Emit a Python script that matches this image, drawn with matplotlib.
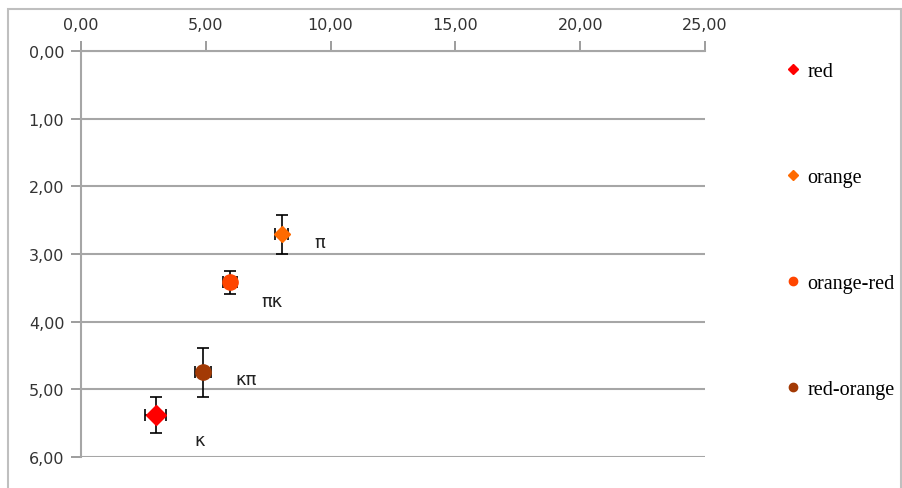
import matplotlib
matplotlib.use("Agg")
import matplotlib.pyplot as plt
from matplotlib.lines import Line2D
from matplotlib.patches import Rectangle
from matplotlib.ticker import FuncFormatter

# colour groups, position on both axes and their error bars
names = ["red", "orange", "orange-red", "red-orange"]
x_vals = [2.99, 8.04, 5.97, 4.88]
y_vals = [5.38, 2.71, 3.42, 4.75]
x_err = [0.42, 0.25, 0.30, 0.32]
y_err = [0.27, 0.29, 0.17, 0.36]
tags = ["κ", "π", "πκ", "κπ"]
tag_x = [4.75, 9.55, 7.65, 6.6]
tag_y = [5.75, 2.82, 3.70, 4.85]

colors = ["#FF0000", "#FF6A00", "#FF4500", "#A33A05"]
markers = ["D", "D", "o", "o"]
sizes = [10, 8, 11, 11]

fig = plt.figure(figsize=(9.03, 4.89), dpi=100)
fig.patches.append(Rectangle((8 / 903, -0.1), 893 / 903, 1.1 - 10 / 489,
                             transform=fig.transFigure, fill=False,
                             edgecolor="#BFBFBF", linewidth=1.5))

ax = fig.add_axes([81 / 903, 1 - 458 / 489, 624 / 903, 406 / 489])

for i in range(len(names)):
    ax.errorbar(x_vals[i], y_vals[i], xerr=x_err[i], yerr=y_err[i],
                fmt="none", ecolor="black", elinewidth=1.2, capsize=4,
                capthick=1.2, zorder=3)
    ax.plot(x_vals[i], y_vals[i], marker=markers[i], markersize=sizes[i],
            color=colors[i], linestyle="none", zorder=4)
    ax.text(tag_x[i], tag_y[i], tags[i], fontsize=13, color="#222222",
            ha="center", va="center")

ax.set_xlim(0, 25)
ax.set_ylim(6, 0)
ax.set_xticks(range(0, 26, 5))
ax.set_yticks(range(0, 7))
fmt = FuncFormatter(lambda v, p: f"{v:.2f}".replace(".", ","))
ax.xaxis.set_major_formatter(fmt)
ax.yaxis.set_major_formatter(fmt)
ax.xaxis.tick_top()
ax.tick_params(axis="both", colors="#8C8C8C", labelcolor="#333333",
               labelsize=11.5, length=7, width=1.2, direction="out")
ax.tick_params(axis="x", pad=7)
ax.tick_params(axis="y", pad=5)

ax.yaxis.grid(True, color="#A6A6A6", linewidth=1.5)
ax.set_axisbelow(True)
for side in ["right", "bottom"]:
    ax.spines[side].set_visible(False)
for side in ["top", "left"]:
    ax.spines[side].set_color("#A6A6A6")
    ax.spines[side].set_linewidth(1.5)

handles = [Line2D([], [], marker=markers[i], color=colors[i], linestyle="none",
                  markersize=5 if markers[i] == "D" else 6)
           for i in range(len(names))]
fig.legend(handles, names, loc="upper left", bbox_to_anchor=(777 / 903, 1 - 53 / 489),
           frameon=False, prop={"family": "Liberation Serif", "size": 14.5},
           labelspacing=4.31, handlelength=0.6, handletextpad=0.4, borderpad=0)

fig.savefig("out.png", dpi=100)
